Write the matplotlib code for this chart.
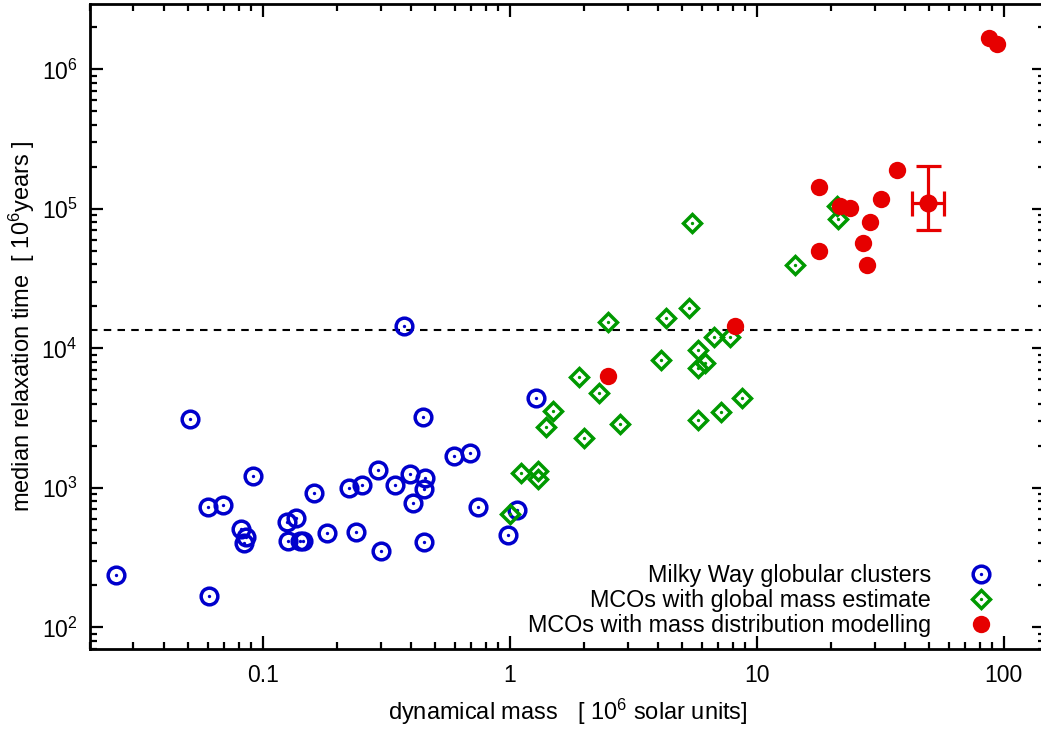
import matplotlib
matplotlib.use('Agg')
from matplotlib import pyplot as plt

plt.rcParams['font.family'] = ['Liberation Sans', 'DejaVu Sans']
plt.rcParams['mathtext.fontset'] = 'custom'
plt.rcParams['mathtext.rm'] = 'Liberation Sans'
plt.rcParams['mathtext.it'] = 'Liberation Sans:italic'
plt.rcParams['mathtext.bf'] = 'Liberation Sans:bold'

BLUE = '#0000cc'
GREEN = '#009900'
RED = '#e60000'

# Milky Way globular clusters (mass in 1e6 Msun, relaxation time in 1e6 yr)
gc_mass = [0.0256, 0.0508, 0.0606, 0.0599, 0.0691, 0.0818, 0.0858, 0.0842, 0.0917,
           0.125, 0.136, 0.127, 0.1416, 0.146, 0.162, 0.183, 0.224, 0.239, 0.253,
           0.294, 0.300, 0.343, 0.373, 0.395, 0.405, 0.447, 0.450, 0.454, 0.450,
           0.595, 0.689, 0.747, 0.988, 1.067, 1.278]
gc_trelax = [239, 3120, 167, 733, 758, 506, 443, 402, 1222,
             573, 611, 418, 416, 415, 914, 475, 997, 485, 1055,
             1334, 353, 1055, 14400, 1259, 774, 3236, 411, 1170, 981,
             1694, 1778, 725, 462, 698, 4436]

# MCOs with global mass estimate
mco_mass = [2.49, 4.30, 5.30, 6.71, 7.80, 5.81, 6.18, 5.81, 4.10, 1.909,
            2.30, 1.503, 1.403, 1.999, 2.81, 5.81, 7.18, 8.70, 1.108, 1.307,
            1.307, 1.003, 5.45, 14.29, 21.1, 21.4]
mco_trelax = [15460, 16440, 19500, 12140, 12080, 9800, 7860, 7180, 8260, 6195,
              4790, 3573, 2748, 2281, 2865, 3069, 3475, 4395, 1280, 1313,
              1159, 650, 78700, 39630, 105500, 84700]

# MCOs with mass distribution modelling
mod_mass = [87.5, 94.3, 37.1, 17.9, 31.9, 21.7, 23.9, 28.7, 26.9, 17.9, 27.9, 8.17, 2.51]
mod_trelax = [1.667e6, 1.52e6, 1.91e5, 1.426e5, 1.178e5, 1.055e5, 1.009e5, 80900,
              56600, 49500, 39800, 14390, 6370]

# object with error bars
err_mass = 49.6
err_mass_range = (42.4, 57.5)
err_trelax = 1.094e5
err_trelax_range = (7.1e4, 2.02e5)

t_hubble = 1.36e4

xtick_vals = [0.1, 1, 10, 100]
xtick_labels = ['0.1', '1', '10', '100']

fig = plt.figure(figsize=(10.41, 7.29), dpi=100)
ax = fig.add_axes([90 / 1041, 80 / 729, 955 / 1041, 645 / 729])
ax.set_xscale('log')
ax.set_yscale('log')
ax.set_xlim(0.02, 147)
ax.set_ylim(70, 2.94e6)

ax.axhline(t_hubble, color='black', lw=1.5, dashes=(3.6, 3.0), zorder=1)

h_gc, = ax.plot(gc_mass, gc_trelax, ls='none', marker='o', ms=12, mfc='none',
                mec=BLUE, mew=2.5, zorder=2)
h_gc_dot, = ax.plot(gc_mass, gc_trelax, ls='none', marker='o', ms=2.4, mfc=BLUE,
                    mew=0, zorder=2)
h_mco, = ax.plot(mco_mass, mco_trelax, ls='none', marker='D', ms=8.8, mfc='none',
                 mec=GREEN, mew=2.5, zorder=3)
h_mco_dot, = ax.plot(mco_mass, mco_trelax, ls='none', marker='o', ms=2.4, mfc=GREEN,
                     mew=0, zorder=3)
h_mod, = ax.plot(mod_mass, mod_trelax, ls='none', marker='o', ms=12.5, mfc=RED,
                 mec=RED, mew=0, zorder=4)
ax.errorbar([err_mass], [err_trelax],
            xerr=[[err_mass - err_mass_range[0]], [err_mass_range[1] - err_mass]],
            yerr=[[err_trelax - err_trelax_range[0]], [err_trelax_range[1] - err_trelax]],
            fmt='o', ms=12, color=RED, elinewidth=2.3, capsize=9, capthick=2.3,
            zorder=4)

for side in ['left', 'right', 'top', 'bottom']:
    ax.spines[side].set_linewidth(2)
ax.tick_params(which='both', direction='in', top=True, right=True, labelsize=16.5)
ax.tick_params(which='major', length=9.5, width=1.6, pad=9)
ax.tick_params(which='minor', length=5, width=1.6)
ax.tick_params(axis='x', which='major', pad=11)
ax.set_xticks(xtick_vals)
ax.set_xticklabels(xtick_labels)

ax.set_xlabel(r'dynamical mass   [ 10$^6$ solar units]', fontsize=17, labelpad=7)
ax.set_ylabel(r'median relaxation time  [ 10$^6$years ]', fontsize=17, labelpad=3)

leg = ax.legend([(h_gc, h_gc_dot), (h_mco, h_mco_dot), h_mod],
                ['Milky Way globular clusters', 'MCOs with global mass estimate',
                 'MCOs with mass distribution modelling'],
                loc='lower right', bbox_to_anchor=(0.955, 0.018), frameon=False,
                markerfirst=False, fontsize=16.8, handlelength=1.8, handletextpad=1.25,
                labelspacing=0.1, borderpad=0, borderaxespad=0)

fig.savefig('out.png', dpi=100)
